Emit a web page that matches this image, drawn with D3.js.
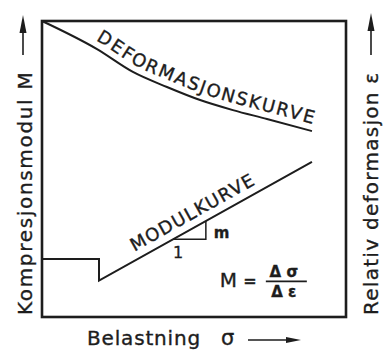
<!DOCTYPE html>
<html>
<head>
<meta charset="utf-8">
<script src="https://cdn.jsdelivr.net/npm/d3@7"></script>
<style>
  body { margin: 0; background: #fff; }
  svg { display: block; }
  text { font-family: "DejaVu Sans", sans-serif; fill: #1d1d1d; stroke: #1d1d1d; stroke-width: 0.35; }
</style>
</head>
<body>
<svg id="chart"></svg>
<script>
// load (x) and relative value (y), both on a 0-100 scale
const deformX = [0, 18.1, 29.9, 41.1, 52.0, 62.8, 74.0, 88.8];
const deformY = [100, 90.5, 82.8, 77.7, 73.3, 69.9, 66.9, 62.8];
const modulX = [0, 18.75, 18.75, 88.8];
const modulY = [19.6, 19.6, 12.3, 52.4];
const slopeTriangle = [43.1, 53.9]; // x-range of the 1:m triangle
const curveNames = ["DEFORMASJONSKURVE", "MODULKURVE"];
const axisTitles = ["Belastning", "Kompresjonsmodul  M", "Relativ  deformasjon  ε"];

const width = 383, height = 354;
const ink = "#1d1d1d";

const x = d3.scaleLinear([0, 100], [42, 346]);
const y = d3.scaleLinear([0, 100], [317, 21]);

const svg = d3.select("#chart")
  .attr("width", width)
  .attr("height", height)
  .attr("viewBox", [0, 0, width, height]);

// stretch a label to a given length by tuning its letter spacing
function fit(text, target) {
  const n = text.text().length;
  const len = text.node().getComputedTextLength();
  text.attr("letter-spacing", (target - len) / n);
}

// frame
svg.append("rect")
  .attr("x", x(0))
  .attr("y", y(100))
  .attr("width", x(100) - x(0))
  .attr("height", y(0) - y(100))
  .attr("fill", "none")
  .attr("stroke", ink)
  .attr("stroke-width", 2.6);

const deform = d3.zip(deformX, deformY);
const modul = d3.zip(modulX, modulY);

const line = d3.line().x(d => x(d[0])).y(d => y(d[1]));

svg.append("path")
  .attr("id", "deform")
  .attr("d", line.curve(d3.curveMonotoneX)(deform))
  .attr("fill", "none")
  .attr("stroke", ink)
  .attr("stroke-width", 2);

line.curve(d3.curveLinear);

svg.append("path")
  .attr("d", line(modul))
  .attr("fill", "none")
  .attr("stroke", ink)
  .attr("stroke-width", 2)
  .attr("stroke-linejoin", "miter");

// sloped part only, used to carry the label
svg.append("path")
  .attr("id", "modulSlope")
  .attr("d", line(modul.slice(2)))
  .attr("fill", "none");

// 1 : m triangle sitting on the modul line
const onSlope = d3.scaleLinear([modulX[2], modulX[3]], [modulY[2], modulY[3]]);
const [t0, t1] = slopeTriangle;
svg.append("path")
  .attr("d", line([[t0, onSlope(t0)], [t1, onSlope(t0)], [t1, onSlope(t1)]]))
  .attr("fill", "none")
  .attr("stroke", ink)
  .attr("stroke-width", 1.5);

svg.append("text")
  .attr("x", x(t0) + 5)
  .attr("y", y(onSlope(t0)) + 19)
  .attr("text-anchor", "middle")
  .attr("font-size", 16)
  .text("1");

svg.append("text")
  .attr("x", x(t1) + 8)
  .attr("y", y((onSlope(t0) + onSlope(t1)) / 2) + 8)
  .attr("font-size", 15)
  .attr("font-weight", "bold")
  .text("m");

// curve names along the curves
function pathLabel(id, label, offset, target, dy) {
  const probe = svg.append("text").attr("font-size", 18).text(label);
  const n = label.length;
  const spacing = (target - probe.node().getComputedTextLength()) / n;
  probe.remove();
  svg.append("text")
    .attr("font-size", 18)
    .attr("letter-spacing", spacing)
    .attr("dy", dy)
    .append("textPath")
    .attr("href", "#" + id)
    .attr("startOffset", offset)
    .text(label);
}
pathLabel("deform", curveNames[0], 56, 238, -7);
pathLabel("modulSlope", curveNames[1], 45, 140, -8);

// formula M = Δσ / Δε
const fx = x(58.5), fy = y(10);
svg.append("text")
  .attr("x", fx)
  .attr("y", fy)
  .attr("font-size", 20)
  .text("M");
svg.append("text")
  .attr("x", fx + 30)
  .attr("y", fy - 1)
  .attr("text-anchor", "middle")
  .attr("font-size", 16)
  .attr("font-weight", "bold")
  .text("=");
svg.append("line")
  .attr("x1", fx + 46).attr("x2", fx + 87)
  .attr("y1", fy - 6).attr("y2", fy - 6)
  .attr("stroke", ink)
  .attr("stroke-width", 1.6);
svg.append("text")
  .attr("x", fx + 64)
  .attr("y", fy - 10)
  .attr("text-anchor", "middle")
  .attr("font-size", 15)
  .attr("font-weight", "bold")
  .text("Δ σ");
svg.append("text")
  .attr("x", fx + 64)
  .attr("y", fy + 10)
  .attr("text-anchor", "middle")
  .attr("font-size", 15)
  .attr("font-weight", "bold")
  .text("Δ ε");

// axis titles with arrows
function arrow(x1, y1, x2, y2, len, half) {
  const a = Math.atan2(y2 - y1, x2 - x1);
  const bx = x2 - len * Math.cos(a), by = y2 - len * Math.sin(a);
  svg.append("line")
    .attr("x1", x1).attr("y1", y1).attr("x2", bx).attr("y2", by)
    .attr("stroke", ink).attr("stroke-width", 1.6);
  svg.append("path")
    .attr("d", d3.line()([
      [x2, y2],
      [bx + half * Math.sin(a), by - half * Math.cos(a)],
      [bx - half * Math.sin(a), by + half * Math.cos(a)]
    ]) + "Z")
    .attr("fill", ink);
}

const xTitle = svg.append("text")
  .attr("x", 87)
  .attr("y", 345)
  .attr("font-size", 20)
  .text(axisTitles[0]);
fit(xTitle, 114);
svg.append("text")
  .attr("x", 221)
  .attr("y", 345)
  .attr("font-size", 21)
  .text("σ");
arrow(248, 340, 301, 340, 15, 3);

const leftTitle = svg.append("text")
  .attr("transform", "translate(32,315) rotate(-90)")
  .attr("font-size", 20)
  .text(axisTitles[1]);
fit(leftTitle, 246);
arrow(23, 55, 23, 15, 18, 3.5);

const rightTitle = svg.append("text")
  .attr("transform", "translate(378,315) rotate(-90)")
  .attr("font-size", 20)
  .text(axisTitles[2]);
fit(rightTitle, 246);
arrow(371, 55, 371, 13, 18, 3.5);
</script>
</body>
</html>
